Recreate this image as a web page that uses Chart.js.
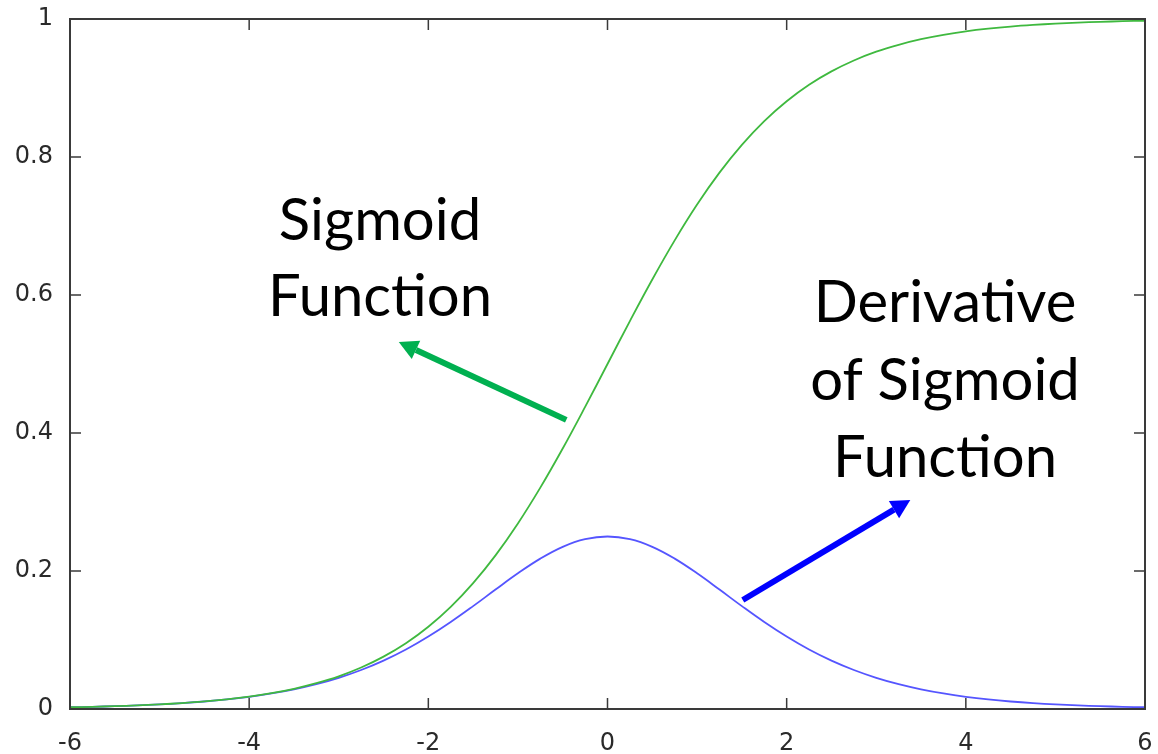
<!DOCTYPE html>
<html>
<head>
<meta charset="utf-8">
<script src="https://cdn.jsdelivr.net/npm/chart.js@4.4.0/dist/chart.umd.min.js"></script>
<style>
  html, body { margin: 0; padding: 0; background: #fff; }
  #wrap { width: 1158px; height: 754px; position: relative; }
</style>
</head>
<body>
<div id="wrap"><canvas id="grafico"></canvas></div>
<script>
// valores
const xValores = [-6, -5.75, -5.5, -5.25, -5, -4.75, -4.5, -4.25, -4, -3.75, -3.5, -3.25, -3, -2.75, -2.5, -2.25,
                  -2, -1.75, -1.5, -1.25, -1, -0.75, -0.5, -0.25, 0, 0.25, 0.5, 0.75, 1, 1.25, 1.5, 1.75,
                  2, 2.25, 2.5, 2.75, 3, 3.25, 3.5, 3.75, 4, 4.25, 4.5, 4.75, 5, 5.25, 5.5, 5.75, 6];
const sigmoide = [0.0025, 0.0032, 0.0041, 0.0052, 0.0067, 0.0086, 0.0110, 0.0141, 0.0180, 0.0230, 0.0293, 0.0374,
                  0.0474, 0.0601, 0.0759, 0.0953, 0.1192, 0.1480, 0.1824, 0.2227, 0.2689, 0.3208, 0.3775, 0.4378,
                  0.5, 0.5622, 0.6225, 0.6792, 0.7311, 0.7773, 0.8176, 0.8520, 0.8808, 0.9047, 0.9241, 0.9399,
                  0.9526, 0.9626, 0.9707, 0.9770, 0.9820, 0.9859, 0.9890, 0.9914, 0.9933, 0.9948, 0.9959, 0.9968, 0.9975];
const derivada = [0.0025, 0.0032, 0.0041, 0.0052, 0.0066, 0.0085, 0.0109, 0.0139, 0.0177, 0.0225, 0.0285, 0.0360,
                  0.0452, 0.0565, 0.0701, 0.0862, 0.1050, 0.1261, 0.1491, 0.1731, 0.1966, 0.2179, 0.2350, 0.2461,
                  0.25, 0.2461, 0.2350, 0.2179, 0.1966, 0.1731, 0.1491, 0.1261, 0.1050, 0.0862, 0.0701, 0.0565,
                  0.0452, 0.0360, 0.0285, 0.0225, 0.0177, 0.0139, 0.0109, 0.0085, 0.0066, 0.0052, 0.0041, 0.0032, 0.0025];
const xTicks = [-6, -4, -2, 0, 2, 4, 6];
const yTicks = [0, 0.2, 0.4, 0.6, 0.8, 1];

// textos e setas (setas em coordenadas dos dados)
const textoSigmoide = ['Sigmoid', 'Function'];
const textoDerivada = ['Derivative', 'of Sigmoid', 'Function'];
const setaSigmoide = { de: [-0.46, 0.419], para: [-2.33, 0.532] };
const setaDerivada = { de: [1.51, 0.158], para: [3.38, 0.303] };

const corVerde = '#3fb93f';
const corAzul = '#5555ff';
const corEixo = '#3a3a3a';

function pontos(ys) {
    return xValores.map((x, i) => ({ x: x, y: ys[i] }));
}

function desenharSeta(ctx, x1, y1, x2, y2, cor) {
    const ang = Math.atan2(y2 - y1, x2 - x1);
    const cab = 19;
    const bx = x2 - cab * Math.cos(ang);
    const by = y2 - cab * Math.sin(ang);
    ctx.save();
    ctx.strokeStyle = cor;
    ctx.fillStyle = cor;
    ctx.lineWidth = 6;
    ctx.beginPath();
    ctx.moveTo(x1, y1);
    ctx.lineTo(bx, by);
    ctx.stroke();
    ctx.beginPath();
    ctx.moveTo(x2, y2);
    ctx.lineTo(bx + 10 * Math.sin(ang), by - 10 * Math.cos(ang));
    ctx.lineTo(bx - 10 * Math.sin(ang), by + 10 * Math.cos(ang));
    ctx.closePath();
    ctx.fill();
    ctx.restore();
}

// moldura, ticks internos e anotações
const pluginMoldura = {
    id: 'moldura',
    afterDatasetsDraw(chart) {
        const ctx = chart.ctx;
        const a = chart.chartArea;
        const sx = chart.scales.x;
        const sy = chart.scales.y;
        ctx.save();
        ctx.strokeStyle = corEixo;
        ctx.lineWidth = 2;
        ctx.strokeRect(a.left, a.top, a.right - a.left, a.bottom - a.top);
        ctx.lineWidth = 1.5;
        ctx.beginPath();
        xTicks.forEach(v => {
            const px = sx.getPixelForValue(v);
            ctx.moveTo(px, a.bottom); ctx.lineTo(px, a.bottom - 11);
            ctx.moveTo(px, a.top); ctx.lineTo(px, a.top + 11);
        });
        yTicks.forEach(v => {
            const py = sy.getPixelForValue(v);
            ctx.moveTo(a.left, py); ctx.lineTo(a.left + 11, py);
            ctx.moveTo(a.right, py); ctx.lineTo(a.right - 11, py);
        });
        ctx.stroke();
        ctx.restore();

        ctx.save();
        ctx.fillStyle = '#000';
        ctx.font = '58px Lato, "Open Sans", sans-serif';
        ctx.textAlign = 'center';
        ctx.textBaseline = 'alphabetic';
        textoSigmoide.forEach((t, i) => ctx.fillText(t, 380, 240 + i * 76));
        textoDerivada.forEach((t, i) => ctx.fillText(t, 945, 322 + i * 77.5));
        ctx.restore();

        desenharSeta(ctx, sx.getPixelForValue(setaSigmoide.de[0]), sy.getPixelForValue(setaSigmoide.de[1]),
            sx.getPixelForValue(setaSigmoide.para[0]), sy.getPixelForValue(setaSigmoide.para[1]), '#00b050');
        desenharSeta(ctx, sx.getPixelForValue(setaDerivada.de[0]), sy.getPixelForValue(setaDerivada.de[1]),
            sx.getPixelForValue(setaDerivada.para[0]), sy.getPixelForValue(setaDerivada.para[1]), '#0000ff');
    }
};

const ctxGrafico = document.getElementById('grafico').getContext('2d');
new Chart(ctxGrafico, {
    type: 'line',
    data: {
        datasets: [
            {
                label: 'Sigmoid',
                data: pontos(sigmoide),
                borderColor: corVerde,
                borderWidth: 1.8,
                pointRadius: 0,
                tension: 0.4,
                fill: false
            },
            {
                label: 'Derivative',
                data: pontos(derivada),
                borderColor: corAzul,
                borderWidth: 1.8,
                pointRadius: 0,
                tension: 0.4,
                fill: false
            }
        ]
    },
    options: {
        responsive: true,
        maintainAspectRatio: false,
        animation: false,
        layout: { padding: { left: 0, right: 13, top: 19, bottom: 0 } },
        plugins: { legend: { display: false }, tooltip: { enabled: false } },
        scales: {
            x: {
                type: 'linear',
                min: -6,
                max: 6,
                afterBuildTicks: s => { s.ticks = xTicks.map(v => ({ value: v })); },
                afterFit: s => { s.height = 45; s.paddingLeft = 0; s.paddingRight = 0; },
                grid: { display: false, drawTicks: false },
                border: { display: false },
                ticks: {
                    padding: 20,
                    color: '#2a2a2a',
                    font: { family: 'DejaVu Sans', size: 24 },
                    maxRotation: 0,
                    autoSkip: false
                }
            },
            y: {
                min: 0,
                max: 1,
                afterBuildTicks: s => { s.ticks = yTicks.map(v => ({ value: v })); },
                afterFit: s => { s.width = 70; s.paddingTop = 0; s.paddingBottom = 0; },
                grid: { display: false, drawTicks: false },
                border: { display: false },
                ticks: {
                    padding: 17,
                    color: '#2a2a2a',
                    font: { family: 'DejaVu Sans', size: 24 },
                    autoSkip: false,
                    callback: v => String(v)
                }
            }
        }
    },
    plugins: [pluginMoldura]
});
</script>
</body>
</html>
